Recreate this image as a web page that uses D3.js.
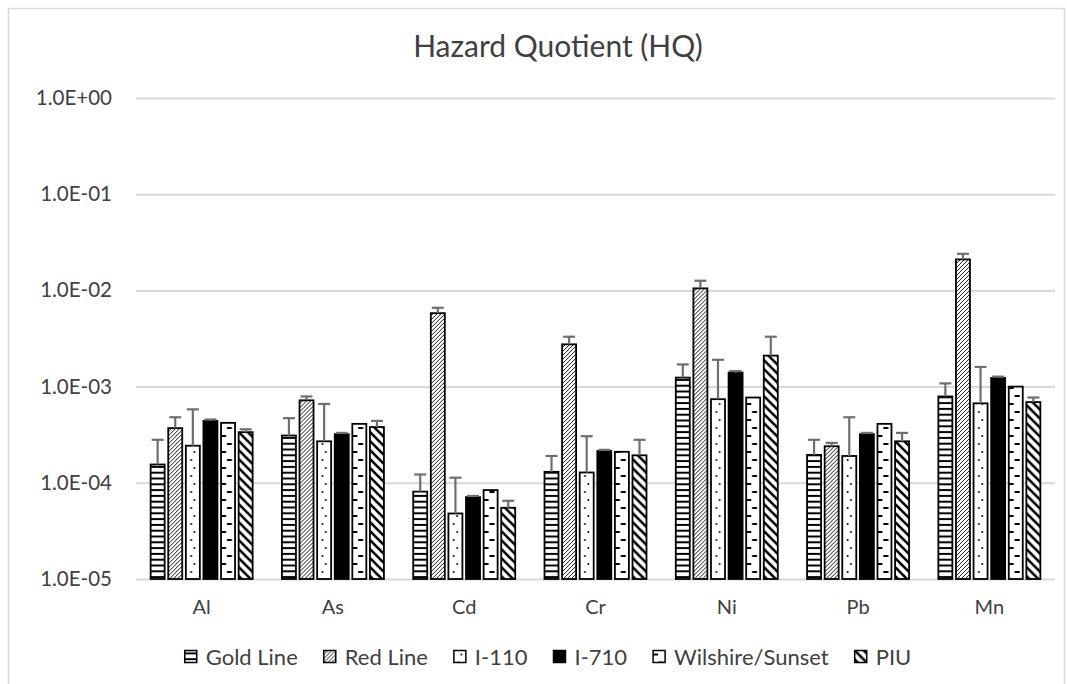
<!DOCTYPE html>
<html>
<head>
<meta charset="utf-8">
<script src="https://cdn.jsdelivr.net/npm/d3@7"></script>
<style>
  body { margin: 0; background: #fff; }
  svg { display: block; font-family: Lato, "Open Sans", sans-serif; }
</style>
</head>
<body>
<svg id="chart" width="1067" height="684"></svg>
<script>
// Metals on the x axis
const categories = ["Al", "As", "Cd", "Cr", "Ni", "Pb", "Mn"];
// Sampling sites (legend order)
const seriesNames = ["Gold Line", "Red Line", "I-110", "I-710", "Wilshire/Sunset", "PIU"];

// Mean hazard quotient per site and metal
const goldLine   = [1.55e-4, 3.1e-4, 8.1e-5, 1.3e-4, 1.24e-3, 1.95e-4, 7.9e-4];
const redLine    = [3.7e-4, 7.2e-4, 5.8e-3, 2.75e-3, 1.05e-2, 2.4e-4, 2.1e-2];
const i110       = [2.43e-4, 2.7e-4, 4.8e-5, 1.28e-4, 7.4e-4, 1.9e-4, 6.7e-4];
const i710       = [4.4e-4, 3.2e-4, 7.1e-5, 2.14e-4, 1.4e-3, 3.2e-4, 1.23e-3];
const wilshire   = [4.2e-4, 4.1e-4, 8.4e-5, 2.1e-4, 7.7e-4, 4.1e-4, 1.0e-3];
const piu        = [3.36e-4, 3.8e-4, 5.5e-5, 1.93e-4, 2.1e-3, 2.7e-4, 6.9e-4];

// Upper end of each error bar (mean + SD); null where none is drawn
const goldLineHi = [2.8e-4, 4.7e-4, 1.22e-4, 1.9e-4, 1.7e-3, 2.8e-4, 1.08e-3];
const redLineHi  = [4.8e-4, 7.9e-4, 6.6e-3, 3.3e-3, 1.26e-2, 2.6e-4, 2.4e-2];
const i110Hi     = [5.8e-4, 6.6e-4, 1.13e-4, 3.05e-4, 1.9e-3, 4.8e-4, 1.6e-3];
const i710Hi     = [4.55e-4, 3.3e-4, 7.3e-5, 2.2e-4, 1.45e-3, 3.3e-4, 1.27e-3];
const wilshireHi = [null, null, null, null, null, null, null];
const piuHi      = [3.6e-4, 4.4e-4, 6.5e-5, 2.8e-4, 3.3e-3, 3.3e-4, 7.7e-4];

const yTickValues = [1e-5, 1e-4, 1e-3, 1e-2, 1e-1, 1];
const yTickLabels = ["1.0E-05", "1.0E-04", "1.0E-03", "1.0E-02", "1.0E-01", "1.0E+00"];

const titleText = "Hazard Quotient (HQ)";

const seriesValues = [goldLine, redLine, i110, i710, wilshire, piu];
const seriesHi = [goldLineHi, redLineHi, i110Hi, i710Hi, wilshireHi, piuHi];

// ---- layout ----
const plot = { left: 136, right: 1055, top: 98, bottom: 579 };
const svg = d3.select("#chart");
const defs = svg.append("defs");

// outer chart frame
svg.append("rect")
  .attr("x", 8.5).attr("y", 8.5)
  .attr("width", 1056).attr("height", 690)
  .attr("fill", "none").attr("stroke", "#d9d9d9").attr("stroke-width", 1.5);

const x = d3.scaleBand().domain(categories).range([plot.left, plot.right]).paddingInner(0).paddingOuter(0);
const groupW = 102;
const xs = d3.scaleBand().domain(seriesNames).range([0, groupW]).paddingInner(0.2045).paddingOuter(0);
const y = d3.scaleLog().domain([1e-5, 1]).range([plot.bottom, plot.top]);

// gridlines + y labels via a d3 axis
const yAxis = d3.axisLeft(y)
  .tickValues(yTickValues)
  .tickFormat((d, i) => yTickLabels[i])
  .tickSize(-(plot.right - plot.left))
  .tickPadding(24);
const gy = svg.append("g").attr("transform", `translate(${plot.left},0)`).call(yAxis);
gy.select(".domain").remove();
gy.selectAll(".tick line").attr("stroke", "#d9d9d9").attr("stroke-width", 2);
gy.selectAll(".tick text").attr("fill", "#404040").attr("font-size", 20.5).attr("font-family", "Lato, sans-serif");

// x category labels
const xAxis = d3.axisBottom(x).tickSize(0).tickPadding(21);
const gx = svg.append("g").attr("transform", `translate(0,${plot.bottom})`).call(xAxis);
gx.select(".domain").remove();
gx.selectAll(".tick text").attr("fill", "#404040").attr("font-size", 20).attr("font-family", "Lato, sans-serif");

// ---- fill patterns ----
function makePattern(id, si, ox, oy, bw) {
  const p = defs.append("pattern").attr("id", id).attr("patternUnits", "userSpaceOnUse");
  if (si === 0) { // wide horizontal lines
    p.attr("x", ox).attr("y", oy).attr("width", 40).attr("height", 5.8);
    p.append("rect").attr("width", 40).attr("height", 5.8).attr("fill", "#fff");
    p.append("rect").attr("y", 1.9).attr("width", 40).attr("height", 2).attr("fill", "#000");
  } else if (si === 1) { // fine upward diagonal
    p.attr("x", ox).attr("y", oy).attr("width", 4).attr("height", 4);
    p.append("rect").attr("width", 4).attr("height", 4).attr("fill", "#fff");
    p.append("path").attr("d", "M-1,1L1,-1M0,4L4,0M3,5L5,3").attr("stroke", "#000").attr("stroke-width", 0.9);
  } else if (si === 2) { // sparse dots
    p.attr("x", ox).attr("y", oy).attr("width", bw).attr("height", 16);
    p.append("rect").attr("width", bw).attr("height", 16).attr("fill", "#fff");
    p.append("circle").attr("cx", bw * 0.62).attr("cy", 4).attr("r", 1).attr("fill", "#000");
    p.append("circle").attr("cx", bw * 0.38).attr("cy", 12).attr("r", 1).attr("fill", "#000");
  } else if (si === 4) { // dashed horizontal
    p.attr("x", ox).attr("y", oy).attr("width", bw).attr("height", 16);
    p.append("rect").attr("width", bw).attr("height", 16).attr("fill", "#fff");
    p.append("rect").attr("x", 0).attr("y", 3).attr("width", 5).attr("height", 2).attr("fill", "#000");
    p.append("rect").attr("x", bw * 0.42).attr("y", 11).attr("width", 5).attr("height", 2).attr("fill", "#000");
  } else if (si === 5) { // wide downward diagonal
    p.attr("x", ox).attr("y", oy).attr("width", 9).attr("height", 9);
    p.append("rect").attr("width", 9).attr("height", 9).attr("fill", "#fff");
    p.append("path").attr("d", "M-2,-2L11,11M-2,7L2,11M7,-2L11,2").attr("stroke", "#000").attr("stroke-width", 2.6);
  }
  return `url(#${id})`;
}
function fillFor(si, ox, oy, bw, id) {
  if (si === 3) return "#000";
  return makePattern(id, si, ox, oy, bw);
}

// ---- bars ----
const bw = xs.bandwidth();
const bars = [];
categories.forEach((c, ci) => {
  const gx0 = x(c) + (x.bandwidth() - groupW) / 2;
  seriesNames.forEach((s, si) => {
    bars.push({ ci, si, x: gx0 + xs(s), v: seriesValues[si][ci], hi: seriesHi[si][ci] });
  });
});

const gBars = svg.append("g");
gBars.selectAll("rect").data(bars).join("rect")
  .attr("x", d => d.x)
  .attr("y", d => y(d.v))
  .attr("width", bw)
  .attr("height", d => y(1e-5) - y(d.v))
  .attr("fill", d => fillFor(d.si, d.x, 0, bw, `p${d.si}_${d.ci}`))
  .attr("stroke", "#000")
  .attr("stroke-width", 1.8);

// error bars (upper only)
const gErr = svg.append("g").attr("stroke", "#6f6f6f").attr("stroke-width", 2.2);
const withErr = bars.filter(d => d.hi != null);
gErr.selectAll("line.v").data(withErr).join("line").attr("class", "v")
  .attr("x1", d => d.x + bw / 2).attr("x2", d => d.x + bw / 2)
  .attr("y1", d => y(d.v)).attr("y2", d => y(d.hi));
gErr.selectAll("line.c").data(withErr).join("line").attr("class", "c")
  .attr("x1", d => d.x + bw / 2 - 6).attr("x2", d => d.x + bw / 2 + 6)
  .attr("y1", d => y(d.hi)).attr("y2", d => y(d.hi));

// ---- title ----
svg.append("text")
  .attr("x", 558).attr("y", 57)
  .attr("text-anchor", "middle")
  .attr("font-size", 30).attr("fill", "#404040")
  .text(titleText);

// ---- legend ----
const leg = svg.append("g");
const items = leg.selectAll("g").data(seriesNames).join("g");
items.append("text").attr("font-size", 22).attr("fill", "#404040").attr("y", 665).text(d => d);
let cursor = 0;
const pos = [];
items.each(function (d, i) {
  const tw = this.querySelector("text").getComputedTextLength();
  pos.push(cursor);
  cursor += 13 + 8 + tw + 26;
});
const total = cursor - 26;
const startX = 548 - total / 2;
items.each(function (d, i) {
  const gx0 = startX + pos[i];
  const g = d3.select(this);
  g.select("text").attr("x", gx0 + 21);
  g.insert("rect", "text")
    .attr("x", gx0).attr("y", 650.5)
    .attr("width", 12).attr("height", 12)
    .attr("fill", fillFor(i, gx0, 650.5, 12, `lp${i}`))
    .attr("stroke", "#000").attr("stroke-width", 1.5);
});
</script>
</body>
</html>
